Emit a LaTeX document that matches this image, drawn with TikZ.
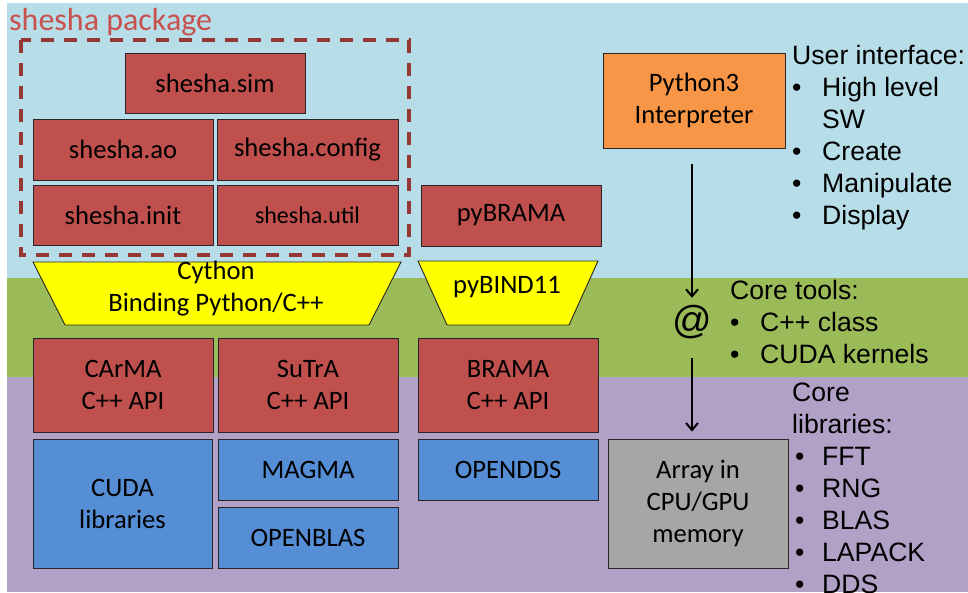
\documentclass[tikz,border=0pt]{standalone}
\usepackage{fontspec}
\setmainfont{Carlito}
\newfontfamily\arialf{Liberation Sans}
\usetikzlibrary{arrows.meta}
\definecolor{bgblue}{HTML}{B7DEE8}
\definecolor{bggreen}{HTML}{9BBB59}
\definecolor{bgpurple}{HTML}{B2A1C7}
\definecolor{boxred}{HTML}{C0504D}
\definecolor{boxblue}{HTML}{558ED5}
\definecolor{boxorange}{HTML}{F79646}
\definecolor{boxgray}{HTML}{A6A6A6}
\definecolor{boxyellow}{HTML}{FFFF00}
\definecolor{dashred}{HTML}{953735}
\definecolor{titlered}{HTML}{C8504D}
\newcommand\bxfont{\fontsize{26.6}{32}\selectfont}
\newcommand\lstfont{\arialf\fontsize{26.6}{32}\selectfont}
\begin{document}
\begin{tikzpicture}[x=1pt,y=-1pt,
  box/.style={draw=black!85, line width=0.9pt, minimum width=180pt, inner sep=0pt, align=center, font=\bxfont},
  redbox/.style={box, fill=boxred},
  bluebox/.style={box, fill=boxblue},
  trap/.style={fill=boxyellow, draw=black!85, line width=0.9pt},
  arrline/.style={line width=2pt, -{Straight Barb[length=7pt,width=12pt]}},
  lst/.style={anchor=north west, inner sep=0pt, font=\lstfont}
]
\useasboundingbox (0,0) rectangle (968,592);
\fill[white] (0,0) rectangle (968,592);
% background bands
\fill[bgblue] (7,3) rectangle (968,278);
\fill[bggreen] (7,278) rectangle (968,377);
\fill[bgpurple] (7,377) rectangle (968,592);

% title
\node[anchor=base west, inner sep=0pt, text=titlered, font=\fontsize{32}{36}\selectfont] (title) at (9,30) {shesha package};

% shesha boxes
\node[redbox, minimum height=60pt] (sim) at (215,83) {shesha.sim};
\node[redbox, minimum height=61pt] (ao) at (123,149.5) {shesha.ao};
\node[redbox, minimum height=61pt, minimum width=181pt] (config) at (307.5,149.5) {shesha.config};
\node[redbox, minimum height=60pt] (init) at (123,215) {shesha.init};
\node[redbox, minimum height=60pt, minimum width=181pt, font=\fontsize{24}{28}\selectfont] (util) at (307.5,215) {shesha.util};
\node[redbox, minimum height=61pt] (pybrama) at (511,215.5) {pyBRAMA};

% dashed package frame
\draw[dashred, line width=3.5pt, dash pattern=on 13pt off 10pt] (21,40) rectangle (409,255);

% binding trapezoids
\path[trap] (33,262) -- (401,262) -- (369,325) -- (65,325) -- cycle;
\node[font=\bxfont, align=center, inner sep=0pt] (cython) at (216,289) {Cython\\Binding Python/C++};
\path[trap] (418,261) -- (598,261) -- (569,325) -- (447,325) -- cycle;
\node[font=\bxfont, inner sep=0pt] (pybind) at (507,287) {pyBIND11};

% C++ API boxes
\node[redbox, minimum height=94pt] (carma) at (123,385) {CArMA\\C++ API};
\node[redbox, minimum height=94pt] (sutra) at (308,385) {SuTrA\\C++ API};
\node[redbox, minimum height=94pt] (brama) at (508,385) {BRAMA\\C++ API};

% libraries
\node[bluebox, minimum height=129pt, minimum width=179pt] (cuda) at (122.5,503.5) {CUDA\\libraries};
\node[bluebox, minimum height=61pt] (magma) at (308,469.5) {MAGMA};
\node[bluebox, minimum height=61pt] (openblas) at (308,537.5) {OPENBLAS};
\node[bluebox, minimum height=61pt] (opendds) at (508,469.5) {OPENDDS};
\node[box, fill=boxgray, minimum height=129pt] (arrbox) at (698,503.5) {Array in\\CPU/GPU\\memory};

% interpreter
\node[box, fill=boxorange, minimum height=95pt, minimum width=182pt] (py) at (694,100.5) {Python3\\Interpreter};

% @ and arrows
\node[inner sep=0pt, font=\arialf\fontsize{39}{40}\selectfont, text height=27pt, text depth=10pt] (atn) at (692,325) {@};
\draw[arrline, shorten <=16pt, shorten >=8.5pt] (py.south -| atn.north) -- (atn.north);
\draw[arrline, shorten <=14.5pt, shorten >=7pt] (atn.south) -- (atn.south |- arrbox.north);

% right-hand lists
\node[lst] (ui) at (792,42) {\begin{tabular}{@{}p{30pt}@{}l@{}}
\multicolumn{2}{@{}l@{}}{User interface:}\\
\textbullet & High level\\
 & SW\\
\textbullet & Create\\
\textbullet & Manipulate\\
\textbullet & Display
\end{tabular}};
\node[lst] (ct) at (730,277) {\begin{tabular}{@{}p{30pt}@{}l@{}}
\multicolumn{2}{@{}l@{}}{Core tools:}\\
\textbullet & C++ class\\
\textbullet & CUDA kernels
\end{tabular}};
\node[lst] (cl) at (792,379) {\begin{tabular}{@{}p{30pt}@{}l@{}}
\multicolumn{2}{@{}l@{}}{Core}\\
\multicolumn{2}{@{}l@{}}{libraries:}\\
\hspace{3pt}\textbullet & FFT\\
\hspace{3pt}\textbullet & RNG\\
\hspace{3pt}\textbullet & BLAS\\
\hspace{3pt}\textbullet & LAPACK\\
\hspace{3pt}\textbullet & DDS
\end{tabular}};
\end{tikzpicture}
\end{document}
